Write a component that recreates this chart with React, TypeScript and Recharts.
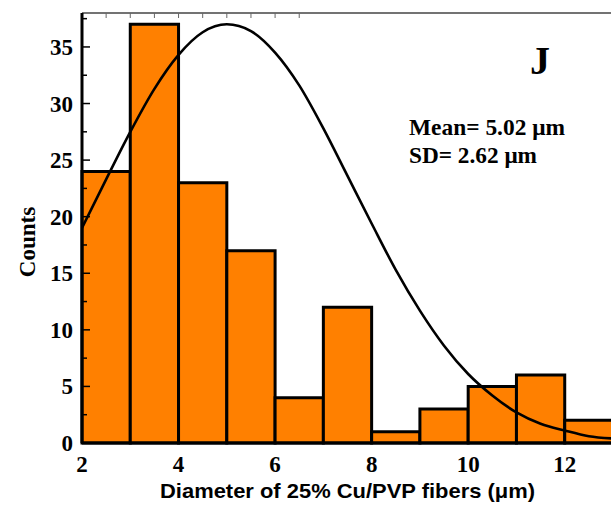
import React from 'react';
import { ComposedChart, Line, XAxis, YAxis, ReferenceArea, Customized } from 'recharts';

// histogram bins (diameter, µm) and counts
const binStart = [2, 3, 4, 5, 6, 7, 8, 9, 10, 11, 12];
const binEnd = [3, 4, 5, 6, 7, 8, 9, 10, 11, 12, 13];
const binCounts = [24, 37, 23, 17, 4, 12, 1, 3, 5, 6, 2];

// fitted curve
const curveX = [2, 2.5, 3, 3.5, 4, 4.5, 5, 5.5, 6, 6.5, 7, 7.5, 8, 8.5, 9, 9.5, 10, 10.5, 11, 11.5, 12, 12.5, 13];
const curveY = [19.0, 23.3, 27.5, 31.3, 34.3, 36.3, 37.0, 36.4, 34.5, 31.6, 27.8, 23.6, 19.4, 15.3, 11.7, 8.6, 6.1, 4.2, 2.7, 1.7, 1.1, 0.6, 0.4];

const xTicks = [2, 4, 6, 8, 10, 12];
const yTicks = [0, 2.5, 5, 7.5, 10, 12.5, 15, 17.5, 20, 22.5, 25, 27.5, 30, 32.5, 35, 37.5];
const topTicks = [1, 2, 3, 4, 5, 6, 7, 8, 9];

const curve = curveX.map((x, i) => ({ x, y: curveY[i] }));

const serif = '"Liberation Serif", "Times New Roman", serif';
const sans = '"Liberation Sans", Arial, sans-serif';
const ORANGE = '#ff8000';

const YTick = (props: any) => {
  const { x, y, payload } = props;
  const major = payload.value % 5 === 0;
  const ax = x + 9;
  return (
    <g>
      <line x1={ax} x2={ax + (major ? 8 : 5)} y1={y} y2={y} stroke="#000" strokeWidth={1.5} />
      {major && (
        <text x={x} y={y} dy={8} textAnchor="end" fontFamily={serif} fontWeight="bold" fontSize={23} fill="#000">
          {payload.value}
        </text>
      )}
    </g>
  );
};

const Notes = () => (
  <g fontFamily={serif} fontWeight="bold" fill="#000">
    <text x={530} y={74} fontSize={40}>J</text>
    <text x={409} y={135} fontSize={24} textLength={156} lengthAdjust="spacingAndGlyphs">Mean= 5.02 μm</text>
    <text x={409} y={163} fontSize={24} textLength={128} lengthAdjust="spacingAndGlyphs">SD= 2.62 μm</text>
  </g>
);

export default function App() {
  return (
    <div style={{ position: 'absolute', left: 0, top: 0, width: 611, height: 510, overflow: 'hidden', background: '#fff' }}>
      <ComposedChart width={614} height={510} data={curve} margin={{ top: 12, right: 1, bottom: 0, left: 0 }}>
        <XAxis
          dataKey="x"
          type="number"
          domain={[2, 13]}
          ticks={xTicks}
          interval={0}
          allowDataOverflow
          height={67}
          tickSize={0}
          tickMargin={13}
          tickLine={false}
          axisLine={{ stroke: '#000', strokeWidth: 3 }}
          tick={{ fontFamily: serif, fontWeight: 'bold', fontSize: 23, fill: '#000' }}
          label={{
            content: ({ viewBox }: any) => (
              <text
                x={160}
                y={498}
                fontFamily={sans}
                fontWeight="bold"
                fontSize={21}
                textLength={375}
                lengthAdjust="spacingAndGlyphs"
                fill="#000"
              >
                Diameter of 25% Cu/PVP fibers (μm)
              </text>
            ),
          }}
        />
        <XAxis
          xAxisId="top"
          orientation="top"
          type="number"
          domain={[0, 9.9]}
          ticks={topTicks}
          interval={0}
          height={1}
          tickSize={-5}
          tickFormatter={() => ''}
          axisLine={{ stroke: '#444', strokeWidth: 1.5 }}
          tickLine={{ stroke: '#666', strokeWidth: 1 }}
        />
        <YAxis
          type="number"
          domain={[0, 38]}
          ticks={yTicks}
          interval={0}
          allowDataOverflow
          width={82}
          tickSize={0}
          tickMargin={9}
          tickLine={false}
          axisLine={{ stroke: '#000', strokeWidth: 3 }}
          tick={<YTick />}
          label={{
            content: () => {
              const cx = 35;
              const cy = 242;
              return (
                <text
                  x={cx}
                  y={cy}
                  transform={`rotate(-90 ${cx} ${cy})`}
                  textAnchor="middle"
                  fontFamily={serif}
                  fontWeight="bold"
                  fontSize={23}
                  fill="#000"
                >
                  Counts
                </text>
              );
            },
          }}
        />
        {binCounts.map((c, i) => (
          <ReferenceArea
            key={i}
            x1={binStart[i]}
            x2={binEnd[i]}
            y1={0}
            y2={c}
            fill={ORANGE}
            fillOpacity={1}
            stroke="#000"
            strokeWidth={3}
            ifOverflow="visible"
          />
        ))}
        <Line
          dataKey="y"
          type="monotone"
          stroke="#000"
          strokeWidth={2.6}
          dot={false}
          activeDot={false}
          isAnimationActive={false}
        />
        <Customized component={Notes} />
      </ComposedChart>
    </div>
  );
}
